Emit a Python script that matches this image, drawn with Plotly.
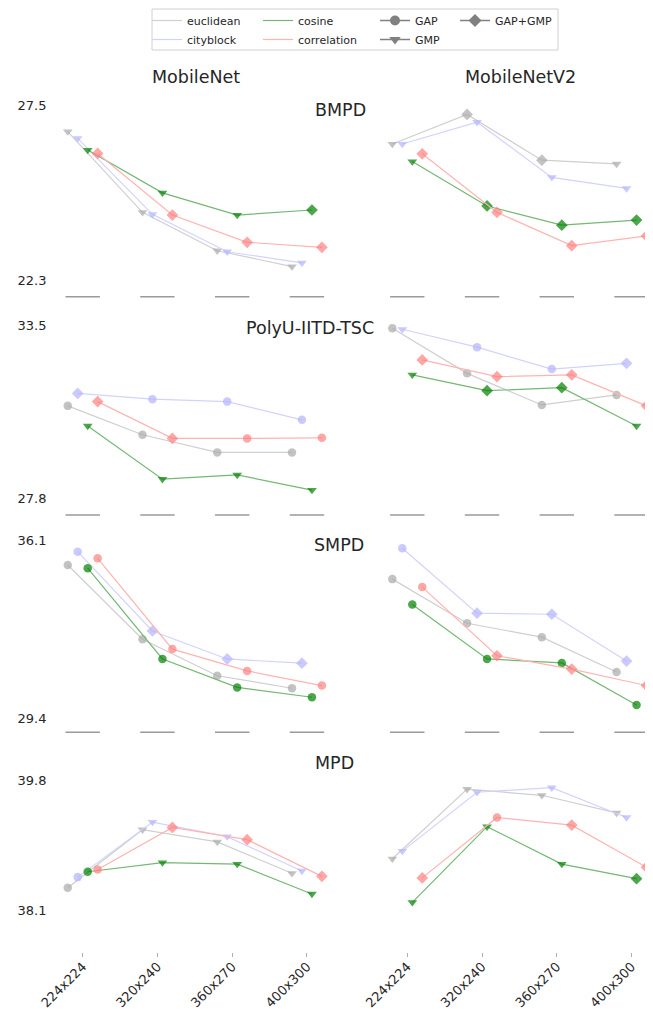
import plotly.graph_objects as go

# The page body has an 8px margin, so the figure is made 8px smaller and all
# reference pixel positions are shifted by that margin.
PAGE_MARGIN = 8
W, H = 653 - PAGE_MARGIN, 1009 - PAGE_MARGIN

# ---------------- data ----------------
resolutions = ["224x224", "320x240", "360x270", "400x300"]
metrics = ["euclidean", "cityblock", "cosine", "correlation"]
models = ["MobileNet", "MobileNetV2"]
datasets = ["BMPD", "PolyU-IITD-TSC", "SMPD", "MPD"]
poolings = ["GAP", "GMP", "GAP+GMP"]

# y tick values per dataset row
bmpd_yticks = [22.3, 27.5]
polyu_yticks = [27.8, 33.5]
smpd_yticks = [29.4, 36.1]
mpd_yticks = [38.1, 39.8]

# ---- BMPD ----
bmpd_v1_euclidean = [26.71, 24.31, 23.17, 22.70]
bmpd_v1_euclidean_pool = ["GMP", "GMP", "GMP", "GMP"]
bmpd_v1_cityblock = [26.51, 24.25, 23.14, 22.81]
bmpd_v1_cityblock_pool = ["GMP", "GMP", "GMP", "GMP"]
bmpd_v1_cosine = [26.16, 24.89, 24.23, 24.38]
bmpd_v1_cosine_pool = ["GMP", "GMP", "GMP", "GAP+GMP"]
bmpd_v1_correlation = [26.06, 24.23, 23.42, 23.27]
bmpd_v1_correlation_pool = ["GAP+GMP", "GAP+GMP", "GAP+GMP", "GAP+GMP"]

bmpd_v2_euclidean = [26.34, 27.22, 25.86, 25.75]
bmpd_v2_euclidean_pool = ["GMP", "GAP+GMP", "GAP+GMP", "GMP"]
bmpd_v2_cityblock = [26.34, 26.99, 25.35, 25.02]
bmpd_v2_cityblock_pool = ["GMP", "GMP", "GMP", "GMP"]
bmpd_v2_cosine = [25.82, 24.50, 23.93, 24.08]
bmpd_v2_cosine_pool = ["GMP", "GAP+GMP", "GAP+GMP", "GAP+GMP"]
bmpd_v2_correlation = [26.05, 24.31, 23.32, 23.61]
bmpd_v2_correlation_pool = ["GAP+GMP", "GAP+GMP", "GAP+GMP", "GAP+GMP"]

# ---- PolyU-IITD-TSC ----
polyu_v1_euclidean = [30.84, 29.89, 29.31, 29.31]
polyu_v1_euclidean_pool = ["GAP", "GAP", "GAP", "GAP"]
polyu_v1_cityblock = [31.25, 31.06, 30.98, 30.38]
polyu_v1_cityblock_pool = ["GAP+GMP", "GAP", "GAP", "GAP"]
polyu_v1_cosine = [30.18, 28.43, 28.57, 28.07]
polyu_v1_cosine_pool = ["GMP", "GMP", "GMP", "GMP"]
polyu_v1_correlation = [30.98, 29.77, 29.77, 29.79]
polyu_v1_correlation_pool = ["GAP+GMP", "GAP+GMP", "GAP", "GAP"]

polyu_v2_euclidean = [33.39, 31.91, 30.87, 31.20]
polyu_v2_euclidean_pool = ["GAP", "GAP", "GAP", "GAP"]
polyu_v2_cityblock = [33.36, 32.77, 32.05, 32.24]
polyu_v2_cityblock_pool = ["GMP", "GAP", "GAP", "GAP+GMP"]
polyu_v2_cosine = [31.86, 31.34, 31.44, 30.18]
polyu_v2_cosine_pool = ["GMP", "GAP+GMP", "GAP+GMP", "GMP"]
polyu_v2_correlation = [32.35, 31.80, 31.86, 30.84]
polyu_v2_correlation_pool = ["GAP+GMP", "GAP+GMP", "GAP+GMP", "GAP+GMP"]

# ---- SMPD ----
smpd_v1_euclidean = [35.16, 32.37, 31.00, 30.53]
smpd_v1_euclidean_pool = ["GAP", "GAP", "GAP", "GAP"]
smpd_v1_cityblock = [35.66, 32.68, 31.63, 31.47]
smpd_v1_cityblock_pool = ["GAP", "GAP+GMP", "GAP+GMP", "GAP+GMP"]
smpd_v1_cosine = [35.04, 31.63, 30.56, 30.19]
smpd_v1_cosine_pool = ["GAP", "GAP", "GAP", "GAP"]
smpd_v1_correlation = [35.41, 32.00, 31.18, 30.63]
smpd_v1_correlation_pool = ["GAP", "GAP", "GAP", "GAP"]

smpd_v2_euclidean = [34.63, 32.97, 32.45, 31.14]
smpd_v2_euclidean_pool = ["GAP", "GAP", "GAP", "GAP"]
smpd_v2_cityblock = [35.79, 33.35, 33.31, 31.55]
smpd_v2_cityblock_pool = ["GAP", "GAP+GMP", "GAP+GMP", "GAP+GMP"]
smpd_v2_cosine = [33.68, 31.63, 31.48, 29.90]
smpd_v2_cosine_pool = ["GAP", "GAP", "GAP", "GAP"]
smpd_v2_correlation = [34.33, 31.75, 31.25, 30.63]
smpd_v2_correlation_pool = ["GAP", "GAP+GMP", "GAP+GMP", "GAP+GMP"]

# ---- MPD ----
mpd_v1_euclidean = [38.39, 39.15, 38.99, 38.58]
mpd_v1_euclidean_pool = ["GAP", "GMP", "GMP", "GMP"]
mpd_v1_cityblock = [38.53, 39.25, 39.06, 38.61]
mpd_v1_cityblock_pool = ["GAP", "GMP", "GMP", "GMP"]
mpd_v1_cosine = [38.60, 38.72, 38.70, 38.31]
mpd_v1_cosine_pool = ["GAP", "GMP", "GMP", "GMP"]
mpd_v1_correlation = [38.63, 39.18, 39.02, 38.54]
mpd_v1_correlation_pool = ["GAP", "GAP+GMP", "GAP+GMP", "GAP+GMP"]

mpd_v2_euclidean = [38.77, 39.68, 39.60, 39.37]
mpd_v2_euclidean_pool = ["GMP", "GMP", "GMP", "GMP"]
mpd_v2_cityblock = [38.87, 39.64, 39.70, 39.31]
mpd_v2_cityblock_pool = ["GMP", "GMP", "GMP", "GMP"]
mpd_v2_cosine = [38.20, 39.19, 38.70, 38.51]
mpd_v2_cosine_pool = ["GMP", "GMP", "GMP", "GAP+GMP"]
mpd_v2_correlation = [38.52, 39.31, 39.21, 38.66]
mpd_v2_correlation_pool = ["GAP+GMP", "GAP", "GAP+GMP", "GAP+GMP"]

# ---------------- assemble ----------------
panel_values = {
    ("BMPD", 0): [bmpd_v1_euclidean, bmpd_v1_cityblock, bmpd_v1_cosine, bmpd_v1_correlation],
    ("BMPD", 1): [bmpd_v2_euclidean, bmpd_v2_cityblock, bmpd_v2_cosine, bmpd_v2_correlation],
    ("PolyU-IITD-TSC", 0): [polyu_v1_euclidean, polyu_v1_cityblock, polyu_v1_cosine, polyu_v1_correlation],
    ("PolyU-IITD-TSC", 1): [polyu_v2_euclidean, polyu_v2_cityblock, polyu_v2_cosine, polyu_v2_correlation],
    ("SMPD", 0): [smpd_v1_euclidean, smpd_v1_cityblock, smpd_v1_cosine, smpd_v1_correlation],
    ("SMPD", 1): [smpd_v2_euclidean, smpd_v2_cityblock, smpd_v2_cosine, smpd_v2_correlation],
    ("MPD", 0): [mpd_v1_euclidean, mpd_v1_cityblock, mpd_v1_cosine, mpd_v1_correlation],
    ("MPD", 1): [mpd_v2_euclidean, mpd_v2_cityblock, mpd_v2_cosine, mpd_v2_correlation],
}
panel_pools = {
    ("BMPD", 0): [bmpd_v1_euclidean_pool, bmpd_v1_cityblock_pool, bmpd_v1_cosine_pool, bmpd_v1_correlation_pool],
    ("BMPD", 1): [bmpd_v2_euclidean_pool, bmpd_v2_cityblock_pool, bmpd_v2_cosine_pool, bmpd_v2_correlation_pool],
    ("PolyU-IITD-TSC", 0): [polyu_v1_euclidean_pool, polyu_v1_cityblock_pool, polyu_v1_cosine_pool, polyu_v1_correlation_pool],
    ("PolyU-IITD-TSC", 1): [polyu_v2_euclidean_pool, polyu_v2_cityblock_pool, polyu_v2_cosine_pool, polyu_v2_correlation_pool],
    ("SMPD", 0): [smpd_v1_euclidean_pool, smpd_v1_cityblock_pool, smpd_v1_cosine_pool, smpd_v1_correlation_pool],
    ("SMPD", 1): [smpd_v2_euclidean_pool, smpd_v2_cityblock_pool, smpd_v2_cosine_pool, smpd_v2_correlation_pool],
    ("MPD", 0): [mpd_v1_euclidean_pool, mpd_v1_cityblock_pool, mpd_v1_cosine_pool, mpd_v1_correlation_pool],
    ("MPD", 1): [mpd_v2_euclidean_pool, mpd_v2_cityblock_pool, mpd_v2_cosine_pool, mpd_v2_correlation_pool],
}
row_yticks = [bmpd_yticks, polyu_yticks, smpd_yticks, mpd_yticks]

# ---------------- styles / layout geometry ----------------
FONT = "DejaVu Sans"
TXT = "#262626"
marker_colors = {"euclidean": "#a9a9a9", "cityblock": "#b3b3ff", "cosine": "#008000", "correlation": "#ff8080"}
line_colors = {"euclidean": "#cfcfcf", "cityblock": "#d2d2ff", "cosine": "#74b874", "correlation": "#ffb3b3"}
symbols = {"GAP": "circle", "GMP": "triangle-down", "GAP+GMP": "diamond"}
sizes = {"GAP": 8.5, "GMP": 8.5, "GAP+GMP": 9}
offsets = [-0.2, -0.067, 0.067, 0.2]

col_c0_px = [82.7, 407.3]   # screen pixel of first category per column
cat_step_px = 74.75
x_range = [-0.35, 3.28]
# (px of top tick, px of bottom tick, px of axis bottom) in screen pixels
row_geom = [(105, 280, 296.7), (325, 498.3, 515), (540, 718.3, 732.3), (780, 910, 952)]


def px_x(p):
    return (p - PAGE_MARGIN) / W


def px_y(p):
    return 1 - (p - PAGE_MARGIN) / H


fig = go.Figure()
layout_axes = {}
shapes = []

for r, ds in enumerate(datasets):
    pt, pb, pbot = row_geom[r]
    vb, vt = row_yticks[r]
    top_px = pt - 14

    def val(p):
        return vt + (p - pt) * (vb - vt) / (pb - pt)

    yrange = [val(pbot), val(top_px)]
    for c in range(2):
        idx = 2 * r + c + 1
        sfx = "" if idx == 1 else str(idx)
        x0px = col_c0_px[c] + x_range[0] * cat_step_px
        x1px = col_c0_px[c] + x_range[1] * cat_step_px
        xa = dict(
            domain=[px_x(x0px), min(1.0, px_x(x1px))],
            range=x_range,
            anchor="y" + sfx,
            automargin=False,
            showgrid=False, zeroline=False, showline=False,
            tickvals=list(range(len(resolutions))),
            ticktext=resolutions,
        )
        if r == len(datasets) - 1:
            xa.update(ticks="outside", ticklen=4, tickwidth=1, tickcolor="#b0b0b0",
                      tickangle=-45, showticklabels=True, ticklabelstandoff=-3,
                      tickfont=dict(family=FONT, size=13, color=TXT))
        else:
            xa.update(ticks="", showticklabels=False)
        ya = dict(
            domain=[px_y(pbot), px_y(top_px)],
            range=yrange,
            anchor="x" + sfx,
            automargin=False,
            showgrid=False, zeroline=False, showline=False, ticks="",
            tickvals=row_yticks[r],
            ticktext=[f"{v:.1f}" for v in row_yticks[r]],
            tickfont=dict(family=FONT, size=13, color=TXT),
            ticklabelstandoff=9,
        )
        if c == 1:
            ya.update(matches="y" + ("" if 2 * r + 1 == 1 else str(2 * r + 1)), showticklabels=False)
        layout_axes["xaxis" + sfx] = xa
        layout_axes["yaxis" + sfx] = ya

        # grey dashes under each category for rows without tick labels
        if r < len(datasets) - 1:
            for i in range(len(resolutions)):
                shapes.append(dict(type="line", xref="x" + sfx, yref="y" + sfx + " domain",
                                   x0=i - 0.23, x1=i + 0.23, y0=0, y1=0,
                                   line=dict(color="#9a9a9a", width=1.5)))

        vals = panel_values[(ds, c)]
        pools = panel_pools[(ds, c)]
        for m, metric in enumerate(metrics):
            fig.add_trace(go.Scatter(
                x=[i + offsets[m] for i in range(len(resolutions))],
                y=vals[m],
                mode="lines+markers",
                line=dict(color=line_colors[metric], width=1.2),
                marker=dict(color=marker_colors[metric],
                            symbol=[symbols[p] for p in pools[m]],
                            size=[sizes[p] for p in pools[m]],
                            line=dict(width=0)),
                xaxis="x" + sfx, yaxis="y" + sfx,
                showlegend=False, cliponaxis=False, hoverinfo="skip",
                name=metric,
            ))

# ---------------- legend ----------------
legend_of_metric = {"euclidean": "legend", "cityblock": "legend",
                    "cosine": "legend2", "correlation": "legend2"}
for metric in metrics:
    fig.add_trace(go.Scatter(x=[None], y=[None], mode="lines", name=metric,
                             line=dict(color=line_colors[metric], width=1.2),
                             legend=legend_of_metric[metric], showlegend=True))
legend_of_pool = {"GAP": "legend3", "GMP": "legend3", "GAP+GMP": "legend4"}
for p in poolings:
    fig.add_trace(go.Scatter(x=[None], y=[None], mode="lines+markers", name=p,
                             line=dict(color="#808080", width=1.5),
                             marker=dict(color="#808080", symbol=symbols[p], size=10),
                             legend=legend_of_pool[p], showlegend=True))

legend_common = dict(orientation="v", yanchor="top", xanchor="left", y=px_y(6),
                     bgcolor="rgba(0,0,0,0)", borderwidth=0,
                     font=dict(family=FONT, size=11, color=TXT), tracegroupgap=0)
legend_x = {"legend": 147, "legend2": 258, "legend3": 375, "legend4": 455}
for key, lx in legend_x.items():
    layout_axes[key] = dict(legend_common, x=px_x(lx))

shapes.append(dict(type="rect", xref="paper", yref="paper",
                   x0=px_x(152), x1=px_x(558), y0=px_y(50), y1=px_y(9),
                   line=dict(color="#d0d0d0", width=1), fillcolor="rgba(0,0,0,0)"))

# ---------------- titles ----------------
annotations = []
model_title_x = [196, 520]
for c, mname in enumerate(models):
    annotations.append(dict(text=mname, xref="paper", yref="paper",
                            x=px_x(model_title_x[c]), y=px_y(77), xanchor="center", yanchor="middle",
                            showarrow=False, font=dict(family=FONT, size=17.5, color=TXT)))
row_title_pos = [(312.5, 110), (244, 328), (312, 545), (312.5, 763)]
for r, ds in enumerate(datasets):
    tx, ty = row_title_pos[r]
    annotations.append(dict(text=ds, xref="paper", yref="paper",
                            x=px_x(tx), y=px_y(ty), xanchor="left", yanchor="middle",
                            showarrow=False, font=dict(family=FONT, size=17.5, color=TXT)))

fig.update_layout(
    width=W, height=H,
    margin=dict(l=0, r=0, t=0, b=0, pad=0, autoexpand=False),
    paper_bgcolor="white", plot_bgcolor="white",
    font=dict(family=FONT, color=TXT),
    shapes=shapes, annotations=annotations,
    **layout_axes,
)

fig.write_html("out.html")
